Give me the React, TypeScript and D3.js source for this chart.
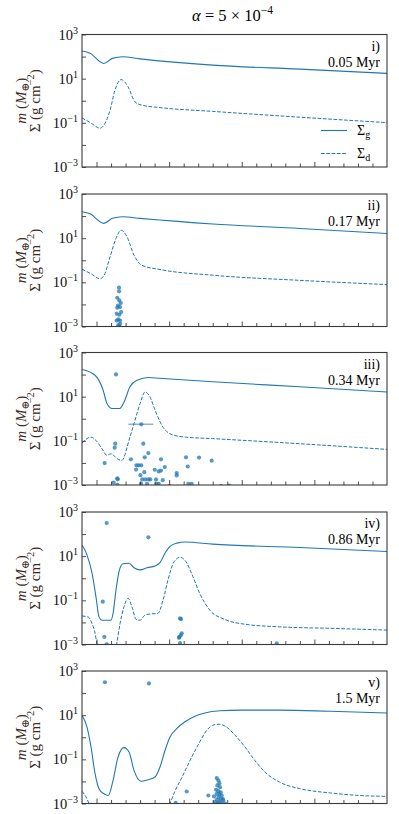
import React, { useEffect, useRef } from 'react'
import * as d3 from 'd3'

// radius (AU) vs surface density / planet mass, one panel per snapshot
const panelLabels = ['i)', 'ii)', 'iii)', 'iv)', 'v)']
const panelTimes = ['0.05 Myr', '0.17 Myr', '0.34 Myr', '0.86 Myr', '1.5 Myr']
const yTickValues = [1e-3, 1e-2, 1e-1, 1, 10, 100, 1000]
const yTickLabels = [[1e-3, '−3'], [1e-1, '−1'], [10, '1'], [1000, '3']]

// gas surface density [r, Sigma_g]
const gas1 = [[0.40, 178], [0.455, 141], [0.55, 49], [0.61, 83], [0.68, 98], [0.80, 79], [1.30, 41], [1.90, 27], [2.5, 17.4]]
const gas2 = [[0.40, 158], [0.455, 126], [0.55, 47], [0.61, 79], [0.68, 93], [0.80, 79], [1.30, 44], [1.90, 27.5], [2.5, 16.2]]
const gas3 = [[0.40, 170], [0.49, 93], [0.545, 20], [0.572, 4.9], [0.607, 2.9], [0.66, 2.9], [0.69, 5.8], [0.73, 28], [0.78, 56], [0.855, 74], [0.937, 68], [1.30, 47], [1.90, 28], [2.5, 16.2]]
const gas4 = [[0.40, 32], [0.434, 11.5], [0.469, 1.7], [0.496, 0.145], [0.517, 0.0178], [0.538, 0.0126], [0.60, 0.0126], [0.614, 0.026], [0.634, 0.295], [0.655, 2.0], [0.682, 4.5], [0.724, 4.8], [0.758, 3.0], [0.80, 2.4], [0.848, 3.0], [0.903, 3.6], [0.937, 5.1], [0.972, 13.8], [1.006, 27.5], [1.054, 39], [1.109, 44], [1.30, 35], [1.90, 24.5], [2.5, 16.2]]
const gas5 = [[0.40, 10], [0.434, 2.95], [0.462, 0.363], [0.49, 0.0224], [0.517, 0.0047], [0.551, 0.00275], [0.581, 0.0023], [0.614, 0.0112], [0.648, 0.126], [0.689, 0.339], [0.724, 0.214], [0.758, 0.0316], [0.806, 0.0102], [0.855, 0.012], [0.903, 0.0158], [0.937, 0.0447], [0.972, 0.257], [1.006, 1.02], [1.054, 2.5], [1.109, 5.0], [1.178, 8.9], [1.247, 12.6], [1.35, 15.8], [1.488, 17], [1.76, 17], [2.11, 15.1], [2.5, 12.6]]

// dust surface density [r, Sigma_d]
const dust1 = [[0.40, 0.166], [0.46, 0.1], [0.524, 0.0575], [0.593, 0.37], [0.627, 3.0], [0.669, 9.1], [0.717, 4.3], [0.765, 0.89], [0.813, 0.63], [0.937, 0.49], [1.30, 0.33], [1.90, 0.18], [2.5, 0.102]]
const dust2 = [[0.40, 0.39], [0.46, 0.25], [0.524, 0.145], [0.551, 0.2], [0.593, 1.41], [0.634, 9.8], [0.669, 22.9], [0.71, 11.5], [0.758, 1.7], [0.813, 0.59], [0.937, 0.38], [1.30, 0.21], [1.90, 0.123], [2.5, 0.079]]
const dust3 = [[0.40, 0.079], [0.434, 0.126], [0.46, 0.148], [0.496, 0.105], [0.538, 0.044], [0.572, 0.022], [0.60, 0.026], [0.641, 0.0158], [0.673, 0.0129], [0.73, 0.148], [0.765, 0.85], [0.80, 4.9], [0.834, 16.2], [0.868, 9.8], [0.903, 2.45], [0.95, 0.5], [1.02, 0.19], [1.11, 0.148], [1.30, 0.126], [1.90, 0.074], [2.5, 0.041]]
const dust4 = [[0.40, 0.0195], [0.441, 0.0178], [0.469, 0.0089], [0.49, 0.0032], [0.503, 0.001], [0.515, 0.00025], [0.56, 0.00003], [0.62, 0.00025], [0.638, 0.001], [0.662, 0.0089], [0.689, 0.051], [0.717, 0.123], [0.744, 0.051], [0.772, 0.0138], [0.80, 0.0126], [0.834, 0.0214], [0.868, 0.024], [0.923, 0.0257], [0.958, 0.102], [0.992, 0.83], [1.034, 5.6], [1.075, 8.9], [1.116, 5.6], [1.164, 1.17], [1.21, 0.209], [1.28, 0.036], [1.385, 0.0135], [1.52, 0.0083], [1.76, 0.0063], [2.11, 0.0054], [2.5, 0.0045]]
const dust5 = [[0.40, 0.0036], [0.427, 0.002], [0.448, 0.001], [0.47, 0.0004], [0.98, 0.0004], [1.006, 0.001], [1.04, 0.0036], [1.089, 0.0158], [1.144, 0.089], [1.199, 0.44], [1.26, 2.1], [1.30, 3.5], [1.343, 3.9], [1.385, 3.2], [1.454, 1.23], [1.522, 0.363], [1.59, 0.089], [1.66, 0.0263], [1.76, 0.0093], [1.90, 0.0047], [2.11, 0.003], [2.315, 0.0023], [2.5, 0.0021]]

// planet masses [r, m]
const planets1: number[][] = []
const planets2 = [[0.655, 0.0575], [0.655, 0.039], [0.643, 0.02], [0.657, 0.0151], [0.667, 0.0115], [0.648, 0.0089], [0.662, 0.0076], [0.643, 0.0071], [0.669, 0.0045], [0.639, 0.0038], [0.657, 0.0034], [0.65, 0.0021], [0.662, 0.00186], [0.639, 0.00186], [0.662, 0.00132], [0.65, 0.00115], [0.657, 0.00102]]
const planets3 = [[0.634, 102], [0.808, 0.56], [0.629, 0.074], [0.625, 0.049], [0.822, 0.074], [0.857, 0.028], [0.832, 0.018], [0.737, 0.0145], [0.556, 0.0098], [0.944, 0.0145], [1.116, 0.018], [1.206, 0.0174], [1.293, 0.0126], [0.79, 0.0078], [0.808, 0.0078], [0.775, 0.0078], [0.97, 0.0065], [1.128, 0.0069], [0.772, 0.005], [0.901, 0.0049], [0.928, 0.0041], [0.944, 0.0045], [1.052, 0.0035], [1.052, 0.0027], [0.829, 0.0038], [0.802, 0.0028], [0.643, 0.002], [0.646, 0.0018], [0.815, 0.00178], [0.836, 0.00178], [0.857, 0.00178], [0.87, 0.00178], [0.91, 0.00178], [0.956, 0.00166], [0.618, 0.0013], [0.643, 0.00102], [0.806, 0.00117], [0.848, 0.00112], [0.914, 0.00112], [0.928, 0.00112], [0.999, 0.00089], [1.132, 0.00112], [1.155, 0.00112], [1.357, 0.00089], [1.414, 0.00095]]
const planets4 = [[0.57, 316], [0.857, 71], [0.543, 0.087], [0.554, 0.0022], [0.57, 0.00102], [1.075, 0.0151], [1.082, 0.0141], [1.07, 0.0022], [1.08, 0.0026], [1.087, 0.0032], [1.068, 0.002], [1.075, 0.00117], [1.741, 0.00112]]
const planets5 = [[0.558, 309], [0.861, 275], [1.121, 0.0035], [1.045, 0.00107], [1.27, 0.0023], [1.328, 0.0141], [1.339, 0.0112], [1.346, 0.0083], [1.332, 0.0066], [1.35, 0.0055], [1.323, 0.0042], [1.339, 0.0036], [1.355, 0.0032], [1.328, 0.00275], [1.346, 0.0026], [1.362, 0.0023], [1.309, 0.0021], [1.339, 0.00195], [1.355, 0.00162], [1.369, 0.00162], [1.328, 0.00148], [1.346, 0.00126], [1.373, 0.00138], [1.316, 0.00115], [1.339, 0.00105], [1.362, 0.00105], [1.385, 0.001], [1.328, 0.00093], [1.35, 0.00085]]

// r range of the error bar on the big panel iii) embryo
const errBar3 = [0.719, 0.891, 0.56]

const gasAll = [gas1, gas2, gas3, gas4, gas5]
const dustAll = [dust1, dust2, dust3, dust4, dust5]
const planetsAll = [planets1, planets2, planets3, planets4, planets5]

const blue = '#1f77b4'
const font = '"Liberation Serif", "DejaVu Serif", serif'

const App = () => {
    const ref = useRef<SVGSVGElement>(null)

    useEffect(() => {
        const svg = d3.select(ref.current)
        svg.selectAll('*').remove()

        const left = 82, right = 387
        const panelTop = [34.5, 194, 352.5, 512, 671]
        const panelH = 132.5

        const x = d3.scaleLinear().domain([0.4, 2.5]).range([left, right])

        // title
        const title = svg.append('text')
            .attr('x', (left + right) / 2 - 2).attr('y', 21)
            .attr('text-anchor', 'middle')
            .style('font-family', font).style('font-size', '16.5px')
        title.append('tspan').style('font-style', 'italic').text('α')
        title.append('tspan').text(' = 5 × 10')
        title.append('tspan').attr('dy', -7).style('font-size', '11.5px').text('−4')

        panelTop.forEach((top, i) => {
            const y = d3.scaleLog().domain([1e-3, 1e3]).range([top + panelH, top])
            const g = svg.append('g')

            const clipId = 'clip' + i
            svg.append('defs').append('clipPath').attr('id', clipId)
                .append('rect').attr('x', left).attr('y', top)
                .attr('width', right - left).attr('height', panelH)

            const plot = g.append('g').attr('clip-path', 'url(#' + clipId + ')')

            const line = d3.line<number[]>()
                .x(d => x(d[0]))
                .y(d => y(d[1]))
                .curve(d3.curveMonotoneX)

            plot.append('path').datum(gasAll[i])
                .attr('d', line).attr('fill', 'none')
                .attr('stroke', blue).attr('stroke-width', 1.1)

            plot.append('path').datum(dustAll[i])
                .attr('d', line).attr('fill', 'none')
                .attr('stroke', blue).attr('stroke-width', 1)
                .attr('stroke-dasharray', '3.7,1.6')

            if (i === 2) {
                plot.append('line')
                    .attr('x1', x(errBar3[0])).attr('x2', x(errBar3[1]))
                    .attr('y1', y(errBar3[2])).attr('y2', y(errBar3[2]))
                    .attr('stroke', blue).attr('stroke-opacity', 0.55).attr('stroke-width', 1.5)
            }

            plot.selectAll('.pl').data(planetsAll[i]).enter().append('circle')
                .attr('cx', d => x(d[0])).attr('cy', d => y(d[1]))
                .attr('r', 2.1).attr('fill', blue).attr('fill-opacity', 0.75)

            // ticks (inward)
            const yAxis = d3.axisLeft(y).tickValues(yTickValues).tickSize(-4).tickFormat(() => '')
            const ya = g.append('g').attr('transform', 'translate(' + left + ',0)').call(yAxis)
            ya.select('.domain').remove()
            ya.selectAll('line').attr('stroke', '#222').attr('stroke-width', 0.8)

            const minorR = d3.range(5, 25).map(v => v / 10)
            const xAxis = d3.axisBottom(x).tickValues(minorR).tickSize(-3.5).tickFormat(() => '')
            const xa = g.append('g').attr('transform', 'translate(0,' + (top + panelH) + ')').call(xAxis)
            xa.select('.domain').remove()
            xa.selectAll('line').attr('stroke', '#222').attr('stroke-width', 0.8)
                .attr('y2', (d: any) => (Math.round(d * 10) % 5 === 0 ? -5 : -3.5))

            // frame
            g.append('rect').attr('x', left).attr('y', top)
                .attr('width', right - left).attr('height', panelH)
                .attr('fill', 'none').attr('stroke', '#3a3a3a').attr('stroke-width', 1.1)

            // y tick labels
            yTickLabels.forEach(([v, e]) => {
                const t = g.append('text')
                    .attr('x', left - 4).attr('y', y(v as number) + 5)
                    .attr('text-anchor', 'end')
                    .style('font-family', font).style('font-size', '14.5px').attr('fill', '#111')
                t.append('tspan').text('10')
                t.append('tspan').attr('dy', -6).style('font-size', '10px').text(e as string)
            })

            // y label, two lines
            const cy = top + panelH / 2
            const l1 = g.append('text')
                .attr('transform', 'translate(26,' + cy + ') rotate(-90)')
                .attr('text-anchor', 'middle')
                .style('font-family', font).style('font-size', '15px').attr('fill', '#3b2a22')
            l1.append('tspan').style('font-style', 'italic').text('m')
            l1.append('tspan').text(' (')
            l1.append('tspan').style('font-style', 'italic').text('M')
            l1.append('tspan').attr('dy', 3).style('font-size', '10.5px').text('⊕')
            l1.append('tspan').attr('dy', -3).text(')')

            const l2 = g.append('text')
                .attr('transform', 'translate(40,' + cy + ') rotate(-90)')
                .attr('text-anchor', 'middle')
                .style('font-family', font).style('font-size', '15px').attr('fill', '#3b2a22')
            l2.append('tspan').text('Σ (g cm')
            l2.append('tspan').attr('dy', -6).style('font-size', '10.5px').text('−2')
            l2.append('tspan').attr('dy', 6).text(')')

            // panel labels
            g.append('text').attr('x', right - 7).attr('y', top + 16)
                .attr('text-anchor', 'end')
                .style('font-family', font).style('font-size', '14px').text(panelLabels[i])
            g.append('text').attr('x', right - 7).attr('y', top + 32)
                .attr('text-anchor', 'end')
                .style('font-family', font).style('font-size', '14px').text(panelTimes[i])

            if (i === 0) {
                const leg = [['Σ', 'g', null], ['Σ', 'd', '3.7,1.6']]
                leg.forEach((l, k) => {
                    const ly = top + 96 + k * 23
                    g.append('line').attr('x1', 321).attr('x2', 347)
                        .attr('y1', ly).attr('y2', ly)
                        .attr('stroke', blue).attr('stroke-width', 1.1)
                        .attr('stroke-dasharray', l[2] as any)
                    const t = g.append('text').attr('x', 357).attr('y', ly + 4)
                        .style('font-family', font).style('font-size', '14px')
                    t.append('tspan').text(l[0] as string)
                    t.append('tspan').attr('dy', 3).style('font-size', '10px').text(l[1] as string)
                })
            }
        })
    }, [])

    return (
        <svg ref={ref} width={399} height={814}
            style={{ position: 'absolute', left: 0, top: 0, background: '#fff' }} />
    )
}

export default App
